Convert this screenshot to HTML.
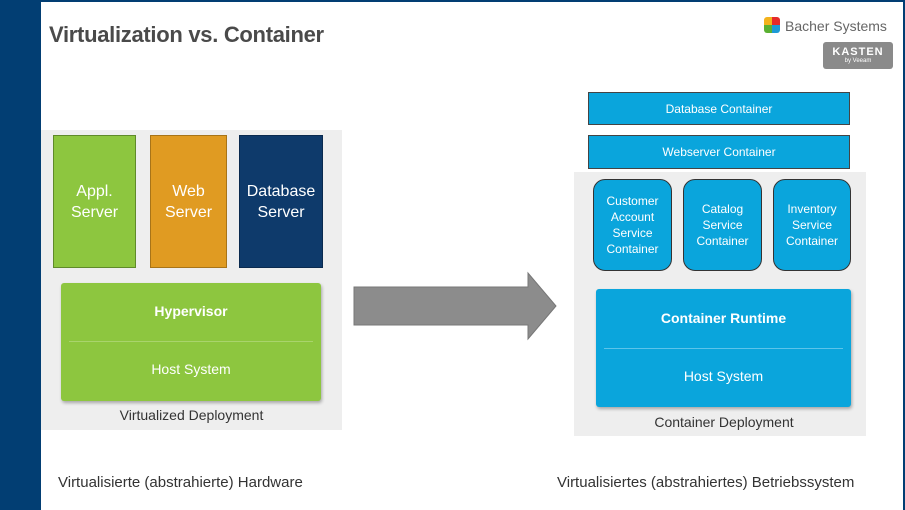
<!DOCTYPE html>
<html><head><meta charset="utf-8"><style>
*{margin:0;padding:0;box-sizing:border-box}
body{width:905px;height:510px;position:relative;background:#fff;font-family:"Liberation Sans",sans-serif;overflow:hidden}
.a{position:absolute}
.c{display:flex;align-items:center;justify-content:center;text-align:center;color:#fff}
</style></head><body>
<div class="a" style="left:0;top:0;width:41px;height:510px;background:#023e73"></div>
<div class="a" style="left:0;top:0;width:905px;height:2px;background:#023e73"></div>
<div class="a" style="right:0;top:0;width:2px;height:510px;background:#023e73"></div>
<div class="a" style="left:49px;top:22px;font-size:22px;font-weight:bold;color:#4a4a4a;letter-spacing:-0.3px">Virtualization vs. Container</div>
<div class="a" style="left:764px;top:17px;width:16px;height:16px;background:conic-gradient(#e52b2b 0 25%,#1c9ad6 0 50%,#5ab031 0 75%,#f3b21c 0);border-radius:3px"></div>
<div class="a" style="left:785px;top:18px;font-size:14px;color:#666">Bacher Systems</div>
<div class="a c" style="left:823px;top:42px;width:70px;height:27px;background:#8a8a8a;border-radius:3px;flex-direction:column;line-height:1"><span style="font-size:11px;font-weight:bold;letter-spacing:1px">KASTEN</span><span style="font-size:6px">by Veeam</span></div>

<div class="a" style="left:41px;top:130px;width:301px;height:300px;background:#eeeeee"></div>
<div class="a c" style="left:53px;top:135px;width:83px;height:133px;background:#8dc63f;border:1px solid #5f8a2a;font-size:16px;line-height:21px">Appl.<br>Server</div>
<div class="a c" style="left:150px;top:135px;width:77px;height:133px;background:#e09b22;border:1px solid #a87418;font-size:16px;line-height:21px">Web<br>Server</div>
<div class="a c" style="left:239px;top:135px;width:84px;height:133px;background:#0e3a6b;border:1px solid #0a2a4f;font-size:16px;line-height:21px">Database<br>Server</div>
<div class="a" style="left:61px;top:283px;width:260px;height:118px;background:#8dc63f;border-radius:3px;box-shadow:1px 2px 3px rgba(0,0,0,.3)"></div>
<div class="a" style="left:69px;top:341px;width:244px;height:1px;background:#a9d46c"></div>
<div class="a c" style="left:61px;top:300px;width:260px;height:22px;font-size:14px;font-weight:bold">Hypervisor</div>
<div class="a c" style="left:61px;top:358px;width:260px;height:22px;font-size:14px">Host System</div>
<div class="a c" style="left:41px;top:405px;width:301px;height:20px;font-size:14px;color:#333">Virtualized Deployment</div>

<svg class="a" style="left:350px;top:270px" width="210" height="72"><polygon points="4,17 178,17 178,3 206,36 178,69 178,55 4,55" fill="#8c8c8c" stroke="#777"/></svg>

<div class="a c" style="left:588px;top:92px;width:262px;height:33px;background:#0aa5dc;border:1px solid #444;font-size:12px">Database Container</div>
<div class="a c" style="left:588px;top:135px;width:262px;height:34px;background:#0aa5dc;border:1px solid #444;font-size:12px">Webserver Container</div>
<div class="a" style="left:574px;top:172px;width:292px;height:264px;background:#eeeeee"></div>
<div class="a c" style="left:593px;top:179px;width:79px;height:92px;background:#0aa5dc;border:1px solid #333;border-radius:12px;font-size:12px;line-height:16px">Customer<br>Account<br>Service<br>Container</div>
<div class="a c" style="left:683px;top:179px;width:79px;height:92px;background:#0aa5dc;border:1px solid #333;border-radius:12px;font-size:12px;line-height:16px">Catalog<br>Service<br>Container</div>
<div class="a c" style="left:773px;top:179px;width:78px;height:92px;background:#0aa5dc;border:1px solid #333;border-radius:12px;font-size:12px;line-height:16px">Inventory<br>Service<br>Container</div>
<div class="a" style="left:596px;top:289px;width:255px;height:118px;background:#0aa5dc;border-radius:3px;box-shadow:1px 2px 3px rgba(0,0,0,.3)"></div>
<div class="a" style="left:604px;top:348px;width:239px;height:1px;background:#5cc4ea"></div>
<div class="a c" style="left:596px;top:307px;width:255px;height:22px;font-size:14px;font-weight:bold">Container Runtime</div>
<div class="a c" style="left:596px;top:365px;width:255px;height:22px;font-size:14px">Host System</div>
<div class="a c" style="left:574px;top:412px;width:300px;height:20px;font-size:14px;color:#333">Container Deployment</div>

<div class="a" style="left:58px;top:474px;font-size:15px;color:#333">Virtualisierte (abstrahierte) Hardware</div>
<div class="a" style="left:557px;top:474px;font-size:15px;color:#333">Virtualisiertes (abstrahiertes) Betriebssystem</div>
</body></html>
